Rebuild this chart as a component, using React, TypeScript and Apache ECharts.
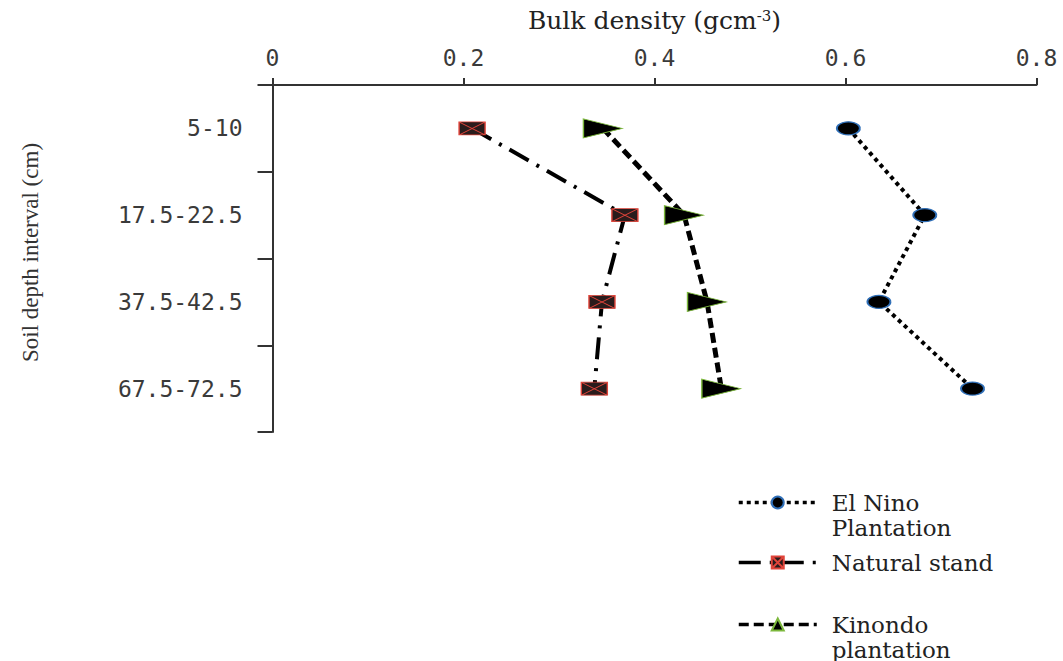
import React, { useEffect, useRef } from "react";
import * as echarts from "echarts";

const categories = ["5-10", "17.5-22.5", "37.5-42.5", "67.5-72.5"];
const elNino = [0.603, 0.683, 0.635, 0.733];
const naturalStand = [0.209, 0.369, 0.345, 0.337];
const kinondo = [0.346, 0.431, 0.455, 0.47];
const xTicks = { min: 0, max: 0.8, interval: 0.2 };
const seriesNames = ["El Nino Plantation", "Natural stand", "Kinondo plantation"];
const legendLabels = [" \nEl Nino\nPlantation", "Natural stand", " \nKinondo\nplantation"];

const SERIF = "DejaVu Serif";
const MONO = "DejaVu Sans Mono";
const SQUARE_X = "path://M0,0L26,0L26,13L0,13ZM0,0L26,13M26,0L0,13";

export default function App() {
  const ref = useRef<HTMLDivElement>(null);
  useEffect(() => {
    if (!ref.current) return;
    const chart = echarts.init(ref.current, null, { renderer: "svg" });
    const pairs = (vals: number[]) => vals.map((v, i) => [v, categories[i]]);
    const legendBase = (i: number, top: number) => ({
      data: [seriesNames[i]],
      orient: "vertical",
      left: 737,
      top,
      padding: 0,
      itemWidth: 78,
      itemHeight: 15,
      symbolRotate: 0,
      lineStyle: { width: 3.5 },
      formatter: () => legendLabels[i],
      textStyle: {
        fontFamily: SERIF,
        fontSize: 23,
        lineHeight: 25,
        color: "#222",
        padding: [0, 0, 0, 10],
      },
    });
    chart.setOption({
      animation: false,
      backgroundColor: "#fff",
      grid: { left: 272.5, right: 26.5, top: 85, bottom: 229 },
      xAxis: {
        type: "value",
        position: "top",
        min: xTicks.min,
        max: xTicks.max,
        interval: xTicks.interval,
        name: "Bulk density (gcm{sup|-3})",
        nameLocation: "middle",
        nameGap: 52,
        nameTextStyle: {
          fontFamily: SERIF,
          fontSize: 25,
          color: "#222",
          rich: {
            sup: { fontFamily: SERIF, fontSize: 15, color: "#222", verticalAlign: "top", padding: [0, 0, 9, 0] },
          },
        },
        axisLine: { show: true, lineStyle: { color: "#333", width: 2 } },
        axisTick: { show: true, inside: false, length: 7, lineStyle: { color: "#333", width: 2 } },
        axisLabel: { fontFamily: MONO, fontSize: 23, color: "#3a3a3a", margin: 16 },
        splitLine: { show: false },
      },
      yAxis: {
        type: "category",
        data: categories,
        inverse: true,
        name: "Soil depth interval (cm)",
        nameLocation: "middle",
        nameGap: 231,
        nameTextStyle: { fontFamily: "Liberation Serif", fontSize: 23, color: "#333", padding: [0, 0, 0, 12] },
        axisLine: { show: true, lineStyle: { color: "#333", width: 2 } },
        axisTick: { show: true, inside: false, length: 15, alignWithLabel: false, lineStyle: { color: "#333", width: 2 } },
        axisLabel: { fontFamily: MONO, fontSize: 23, color: "#3a3a3a", margin: 30 },
        splitLine: { show: false },
      },
      legend: [legendBase(0, 465), legendBase(1, 550), legendBase(2, 587)],
      series: [
        {
          name: seriesNames[0],
          type: "line",
          data: pairs(elNino),
          symbol: "circle",
          symbolSize: [23, 13],
          lineStyle: { color: "#000", width: 4, type: [4, 4] },
          itemStyle: { color: "#000", borderColor: "#2f6fb8", borderWidth: 1.5 },
        },
        {
          name: seriesNames[1],
          type: "line",
          data: pairs(naturalStand),
          symbol: SQUARE_X,
          symbolSize: [26, 13],
          lineStyle: { color: "#000", width: 4, type: [22, 9, 3, 9] },
          itemStyle: { color: "#2a1c1c", borderColor: "#e0443a", borderWidth: 1 },
        },
        {
          name: seriesNames[2],
          type: "line",
          data: pairs(kinondo),
          symbol: "triangle",
          symbolSize: [19, 39],
          symbolRotate: -90,
          lineStyle: { color: "#000", width: 5, type: [10, 5] },
          itemStyle: { color: "#000", borderColor: "#7cb83c", borderWidth: 1 },
        },
      ],
    });
    return () => chart.dispose();
  }, []);
  return (
    <div
      ref={ref}
      style={{ position: "fixed", left: 0, top: 0, width: 1063, height: 661, background: "#fff" }}
    />
  );
}
